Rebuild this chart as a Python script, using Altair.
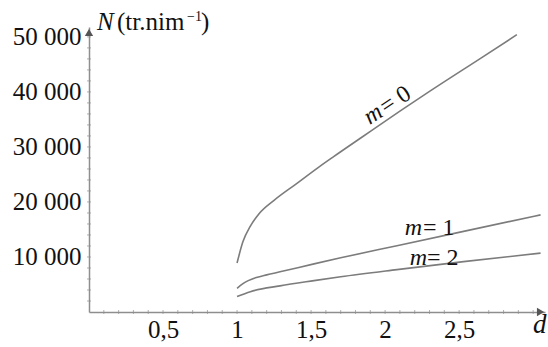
import altair as alt
import pandas as pd

# ---- data ----
m0_d = [1.0, 1.04, 1.09, 1.15, 1.25, 1.4, 1.55, 1.65, 1.85, 2.1, 2.3, 2.65, 2.89]
m0_N = [8900, 12800, 15600, 17900, 20300, 23300, 26300, 28200, 31900, 36500, 40100, 46200, 50400]

m1_d = [1.0, 1.04, 1.13, 1.2, 1.29, 1.52, 1.7, 2.08, 2.53, 3.05]
m1_N = [4300, 5150, 6250, 6750, 7300, 8750, 9850, 12050, 14650, 17650]

m2_d = [1.0, 1.09, 1.29, 1.52, 1.7, 2.08, 2.53, 3.05]
m2_N = [2800, 3700, 4750, 5700, 6400, 7700, 9150, 10700]

x_ticks = [0.5, 1, 1.5, 2, 2.5]
y_ticks = [10000, 20000, 30000, 40000, 50000]
x_minor = [round(0.1 * i, 1) for i in range(1, 31)]
y_minor = [2000 * i for i in range(1, 26)]

lab_m = ["0", "1", "2"]
lab_d = [2.02, 2.29, 2.344]
lab_N = [37650, 15280, 9823]
lab_angle = [327, 0, 0]
lab_dx_m = [-9, -6, -9]
lab_dx_eq = [-7, -5, -9]

X_MAX = 3.08
Y_MAX = 51800

FONT = "Liberation Serif"
GREY = "#7c7c7c"
AXIS_GREY = "#8e8e8e"

rows = []
for name, ds, ns in (("0", m0_d, m0_N), ("1", m1_d, m1_N), ("2", m2_d, m2_N)):
    for d, n in zip(ds, ns):
        rows.append({"m": name, "d": d, "N": n})
curves = pd.DataFrame(rows)

xs = alt.Scale(domain=[0, X_MAX], nice=False, zero=False)
ys = alt.Scale(domain=[0, Y_MAX], nice=False, zero=False)

x_axis = alt.Axis(values=x_ticks, grid=False, ticks=False, domainColor=AXIS_GREY,
                  domainWidth=1.5, labelFont=FONT, labelFontSize=25, labelColor="#111",
                  labelPadding=5, title=None,
                  labelExpr="replace(toString(datum.value), '.', ',')")
y_axis = alt.Axis(values=y_ticks, grid=False, ticks=False, domainColor=AXIS_GREY,
                  domainWidth=1.5, labelFont=FONT, labelFontSize=25, labelColor="#111",
                  labelPadding=8, title=None,
                  labelExpr="replace(format(datum.value, ','), ',', ' ')")

lines = alt.Chart(curves).mark_line(color=GREY, strokeWidth=1.6, interpolate="monotone").encode(
    x=alt.X("d:Q", scale=xs, axis=x_axis),
    y=alt.Y("N:Q", scale=ys, axis=y_axis),
    detail="m:N",
)

xt = alt.Chart(pd.DataFrame({"d": x_minor, "N": [0] * len(x_minor)})).mark_tick(
    orient="vertical", size=4, thickness=1, color=AXIS_GREY).encode(
    x=alt.X("d:Q", scale=xs), y=alt.Y("N:Q", scale=ys))
yt = alt.Chart(pd.DataFrame({"N": y_minor, "d": [0] * len(y_minor)})).mark_tick(
    orient="horizontal", size=4, thickness=1, color=AXIS_GREY).encode(
    x=alt.X("d:Q", scale=xs), y=alt.Y("N:Q", scale=ys))

arrows = pd.DataFrame({"d": [0, 3.05], "N": [50800, 0], "shape": ["triangle-up", "triangle-right"]})
arr = alt.Chart(arrows).mark_point(filled=True, size=70, color="#555", opacity=1).encode(
    x=alt.X("d:Q", scale=xs), y=alt.Y("N:Q", scale=ys),
    shape=alt.Shape("shape:N", scale=None))

labs = pd.DataFrame({"d": lab_d, "N": lab_N,
                     "mt": ["m"] * 3, "eq": ["= " + v for v in lab_m]})
layers_lab = []
for i in range(3):
    sub = labs.iloc[[i]]
    layers_lab.append(alt.Chart(sub).mark_text(
        font=FONT, fontSize=24, fontStyle="italic", align="right", baseline="middle",
        color="#111", angle=lab_angle[i], dx=lab_dx_m[i]).encode(
        x=alt.X("d:Q", scale=xs), y=alt.Y("N:Q", scale=ys), text="mt:N"))
    layers_lab.append(alt.Chart(sub).mark_text(
        font=FONT, fontSize=24, align="left", baseline="middle",
        color="#111", angle=lab_angle[i], dx=lab_dx_eq[i]).encode(
        x=alt.X("d:Q", scale=xs), y=alt.Y("N:Q", scale=ys), text="eq:N"))

one = pd.DataFrame({"a": [0]})
def txt(t, x, y, size=25, style="normal"):
    return alt.Chart(one).mark_text(font=FONT, fontSize=size, fontStyle=style, align="left",
                                    baseline="alphabetic", color="#111").encode(
        x=alt.value(x), y=alt.value(y), text=alt.value(t))

titles = [
    txt("N", 8, 3, 25, "italic"),
    txt("(tr.nim", 28, 3, 25),
    txt("−1", 98, -6, 14),
    txt(")", 112, 3, 25),
    txt("d", 444, 306, 27, "italic"),
]

chart = alt.layer(lines, xt, yt, arr, *layers_lab, *titles).properties(
    width=456, height=285,
    autosize=alt.AutoSizeParams(type="none"),
    padding={"left": 89, "top": 27, "right": 3, "bottom": 35},
).configure_view(stroke=None)

chart.save("out.html", embed_options={"renderer": "svg", "actions": False})
